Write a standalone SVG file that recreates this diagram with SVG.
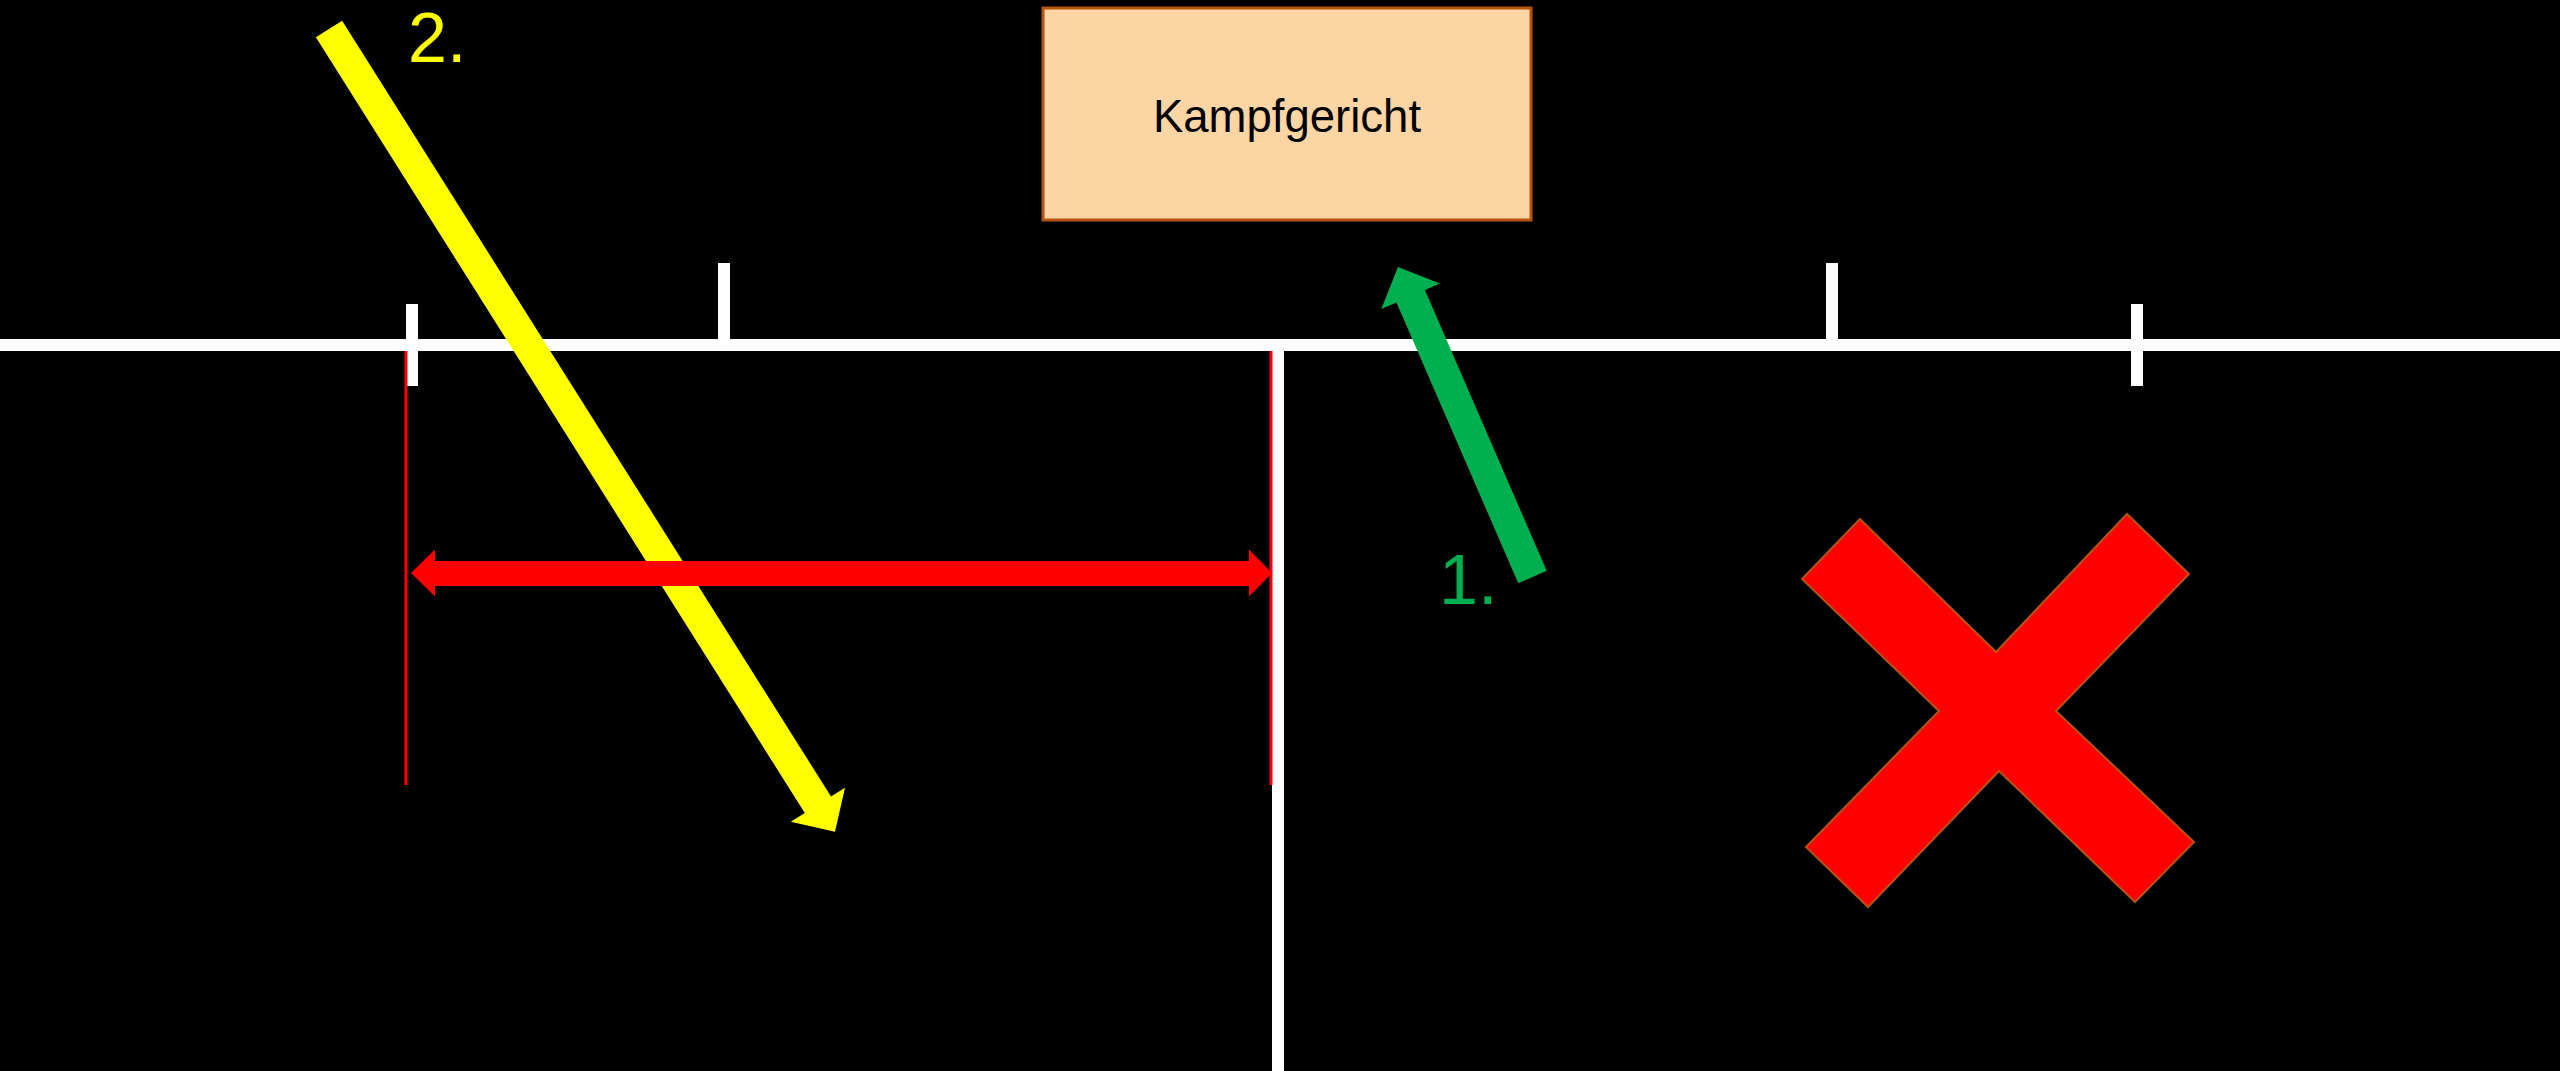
<svg xmlns="http://www.w3.org/2000/svg" width="2560" height="1071" viewBox="0 0 2560 1071">
  <style>
    .court { fill: #FFFFFF; }
    .mark { stroke: #FF0000; stroke-width: 3; fill: none; }
    .label { font-family: "Liberation Sans", Arial, sans-serif; }
  </style>

  <rect x="0" y="0" width="2560" height="1071" fill="#000000" />

  <!-- court lines -->
  <g id="court">
    <rect class="court" x="0" y="339" width="2560" height="12" />
    <rect class="court" x="1272" y="339" width="12" height="732" />
    <rect class="court" x="406" y="304" width="12" height="82" />
    <rect class="court" x="718" y="263" width="12" height="82" />
    <rect class="court" x="1826" y="263" width="12" height="82" />
    <rect class="court" x="2131" y="304" width="12" height="82" />
  </g>

  <!-- judges' table -->
  <g id="kampfgericht">
    <rect x="1043" y="8" width="488" height="212" fill="#FCD5A5" stroke="#B5530F" stroke-width="3" />
    <text class="label" x="1287" y="132" font-size="45.5" text-anchor="middle" fill="#000000">Kampfgericht</text>
  </g>

  <!-- zone markers -->
  <g id="zone">
    <line class="mark" x1="406" y1="351" x2="406" y2="785" />
    <line class="mark" x1="1271" y1="351" x2="1271" y2="785" />
  </g>

  <g id="connectors">
    <!-- 2. path -->
    <polygon fill="#FFFF00" transform="translate(329,29) rotate(57.78)"
             points="0,-15.5 917,-15.5 917,-32 949,0 917,32 917,15.5 0,15.5" />
    <!-- width span -->
    <polygon fill="#FF0000"
             points="411,573 435,549.5 435,561 1249,561 1249,549.5 1272,573 1249,596.5 1249,586 435,586 435,596.5" />
    <!-- 1. path -->
    <polygon fill="#00B050" transform="translate(1532.5,577) rotate(-113.46)"
             points="0,-15.5 306,-15.5 306,-32 338,0 306,32 306,15.5 0,15.5" />
  </g>

  <g id="step2">
    <text class="label" x="408" y="62" font-size="70" fill="#FFFF00">2.</text>
  </g>
  <g id="step1">
    <text class="label" x="1439" y="604" font-size="70" fill="#00B050">1.</text>
  </g>

  <!-- forbidden area -->
  <g id="verboten">
    <polygon fill="#FF0000" stroke="#B5530F" stroke-width="2"
             points="1860,519 1996,652 2127,514 2189,574 2056,711 2194,842 2135,902 1999,771 1868,907 1806,847 1939,711 1802,579" />
  </g>
</svg>
